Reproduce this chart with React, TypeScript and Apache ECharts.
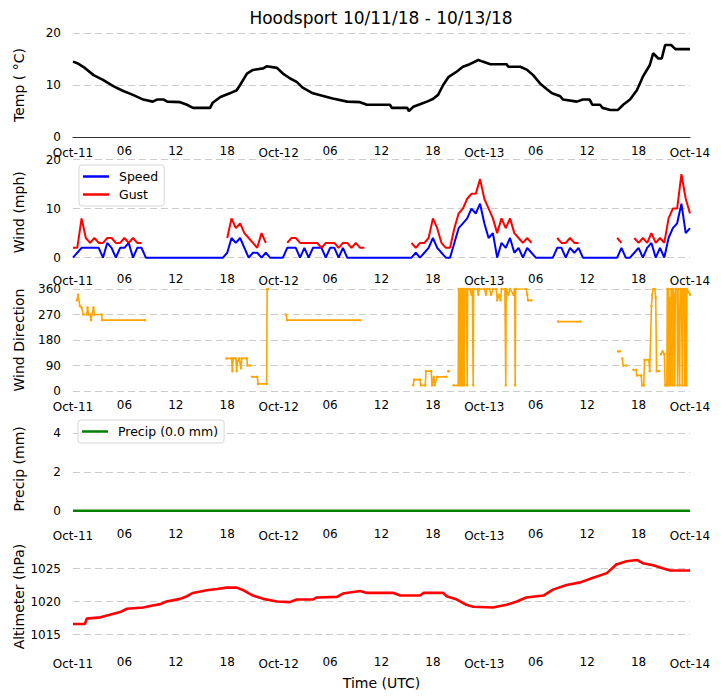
import { useEffect, useRef } from 'react'
import * as echarts from 'echarts'

const FONT = "'DejaVu Sans', sans-serif"

const TITLE = 'Hoodsport 10/11/18 - 10/13/18'

const X_TICK_LABELS = ['Oct-11', '06', '12', '18', 'Oct-12', '06', '12', '18', 'Oct-13', '06', '12', '18', 'Oct-14']

// [hours since Oct-11 00 UTC, °C]
const TEMP: [number, number][] = [
  [0, 14.5], [0.5, 14.2], [1.2, 13.5], [2.4, 11.9], [3.5, 11.0], [4.7, 9.8], [5.8, 8.9], [7, 8.1],
  [8.2, 7.2], [9.3, 6.8], [9.8, 7.2], [10.6, 7.2], [11, 6.8], [12.5, 6.7], [13.3, 6.2], [14, 5.6],
  [16, 5.6], [16.3, 6.6], [17.2, 7.7], [18.3, 8.4], [19.1, 9.0], [19.5, 10.0], [20.3, 12.2], [21, 12.9],
  [22.2, 13.2], [22.6, 13.6], [23.8, 13.3], [24.5, 12.2], [25.3, 11.3], [26.1, 10.6], [26.8, 9.5],
  [28, 8.4], [29.2, 7.9], [30.3, 7.4], [32, 6.8], [33.5, 6.7], [34.3, 6.2], [37, 6.2], [37.2, 5.6],
  [39, 5.6], [39.2, 5.0], [39.7, 5.8], [40.5, 6.3], [41.3, 6.8], [42, 7.3], [42.6, 8.1], [43.2, 10.0],
  [43.8, 11.5], [44.8, 12.6], [45.5, 13.5], [46.3, 14.0], [47.3, 14.8], [47.8, 14.5], [48.7, 14.0],
  [50.6, 14.0], [50.8, 13.5], [52.2, 13.5], [53, 12.9], [53.7, 11.9], [54.5, 10.3], [55.3, 9.2],
  [55.9, 8.4], [56.8, 7.9], [57.2, 7.2], [58.8, 6.8], [59.5, 7.2], [60.3, 7.2], [60.6, 6.2], [61.5, 6.2],
  [61.8, 5.6], [62.7, 5.2], [63.6, 5.2], [64.2, 6.2], [65, 7.2], [65.8, 9.0], [66.5, 11.6], [67.3, 13.8],
  [67.7, 16.1], [68.3, 15.1], [68.7, 15.1], [69.1, 17.7], [69.8, 17.7], [70.3, 16.9], [72, 16.9],
]

// half-hourly wind, mph (null = no gust report)
const WIND_SPEED: number[] = [
  0, 1, 2, 2, 2, 2, 2, 0, 3, 2, 0, 2, 2, 3, 0, 2, 2,
  0, 0, 0, 0, 0, 0, 0, 0, 0, 0, 0, 0, 0, 0, 0, 0, 0, 0, 0,
  1, 4, 3, 4, 2, 0, 1, 1, 0, 1,
  0, 0, 0, 0,
  2, 2, 2, 0, 2, 0, 2, 2, 2, 0, 2, 2, 0, 2, 0, 0, 0, 0, 0,
  0, 0, 0, 0, 0, 0, 0, 0, 0, 0,
  0, 1, 0, 1, 2, 4, 2, 1, 0, 0,
  3, 6, 7, 8, 10, 9, 11, 7, 4, 5, 0, 3, 2, 4, 1, 2, 0, 2, 1,
  0, 0, 0, 0, 0,
  2, 2, 0, 2, 1, 2,
  0, 0, 0, 0, 0, 0, 0, 0,
  0, 2,
  0, 0,
  1, 2, 0, 2, 3, 0, 2, 0, 4, 6, 7, 11, 5, 6,
]

const WIND_GUST: (number | null)[] = [
  2, 2, 8, 4, 3, 4, 3, 3, 4, 4, 3, 3, 4, 3, 4, 3, 3,
  null, null, null, null, null, null, null, null, null, null, null, null, null, null, null, null, null, null, null,
  4, 8, 6, 7, 5, 4, 3, 2, 5, 3,
  null, null, null, null,
  3, 4, 4, 3, 3, 3, 3, 3, 2, 3, 3, 3, 2, 3, 3, 2, 3, 2, 2,
  null, null, null, null, null, null, null, null, null, null,
  3, 2, 3, 3, 4, 8, 6, 3, 2, 2,
  6, 9, 10, 12, 13, 13, 16, 12, 10, 8, 5, 8, 6, 8, 5, 4, 3, 4, 3,
  null, null, null, null, null,
  4, 3, 3, 4, 3, 3,
  null, null, null, null, null, null, null, null,
  4, 3,
  null, null,
  4, 3, 4, 3, 5, 3, 4, 3, 8, 10, 10, 17, 12, 9,
]

// wind direction, degrees, in unbroken runs
const WIND_DIR: [number, number][][] = [
  [[0.45, 320], [0.6, 340], [0.8, 300], [1.0, 295], [1.2, 270], [1.6, 270], [1.7, 295], [1.8, 270], [2.0, 270],
    [2.1, 250], [2.2, 270], [2.4, 295], [2.5, 270], [3.35, 270], [3.4, 250], [8.4, 250]],
  [[17.9, 115], [18.5, 115], [18.6, 70], [18.7, 115], [19.0, 115], [19.1, 70], [19.2, 105], [19.4, 115],
    [19.6, 80], [19.7, 115], [20.3, 115], [20.35, 90], [20.7, 90]],
  [[20.9, 50], [21.5, 50], [21.6, 25], [22.6, 25], [22.65, 360], [22.8, 360]],
  [[24.85, 270], [25.0, 250], [33.5, 250]],
  [[39.7, 20], [39.8, 40], [40.5, 40], [40.6, 20], [41.1, 20], [41.2, 70], [41.8, 70], [41.9, 20], [42.1, 50],
    [42.2, 20], [42.5, 50], [43.6, 50]],
  [[43.8, 70], [43.85, 70]],
  [[44.4, 20], [44.95, 20], [45.0, 360], [45.1, 20], [45.2, 360], [45.3, 20], [45.35, 360], [45.45, 20],
    [45.5, 360], [45.6, 360], [45.65, 20], [45.7, 360], [45.8, 340], [45.9, 360], [46.0, 20], [46.05, 360],
    [46.3, 360], [46.5, 340], [46.6, 360], [46.7, 20], [46.75, 360], [47.2, 360], [47.3, 340], [47.4, 360],
    [48.0, 360], [48.2, 340], [48.3, 360], [48.6, 360], [48.8, 340], [49.0, 360], [49.4, 360], [49.5, 320],
    [49.7, 340], [49.9, 320], [50.0, 360], [50.4, 360], [50.5, 20], [50.55, 360], [50.8, 340], [51.0, 360],
    [51.4, 340], [51.55, 360], [51.6, 20], [51.65, 360], [52.9, 360], [53.0, 340], [53.1, 320], [53.5, 320]],
  [[56.6, 245], [59.2, 245]],
  [[63.6, 140], [63.8, 140]],
  [[64.1, 115], [64.2, 90], [64.6, 90]],
  [[65.4, 75], [65.7, 75], [65.8, 55], [66.3, 55], [66.4, 20], [66.6, 20], [66.7, 110], [67.2, 110],
    [67.3, 70], [67.5, 300], [67.6, 340], [67.7, 360], [67.9, 360], [68.0, 330], [68.1, 70], [68.4, 70]],
  [[68.6, 130], [68.8, 140], [69.0, 130], [69.1, 20], [69.3, 20], [69.35, 360], [69.45, 20], [69.5, 360],
    [69.6, 20], [69.65, 330], [69.75, 20], [69.8, 360], [69.9, 360], [69.95, 20], [70.0, 360], [70.1, 340],
    [70.2, 20], [70.3, 360], [70.5, 360], [70.55, 20], [70.6, 360], [70.8, 20], [70.85, 360], [71.0, 360],
    [71.1, 20], [71.15, 360], [71.3, 360], [71.4, 20], [71.45, 360], [71.6, 20], [71.65, 360], [72, 340]],
]

const PRECIP_HOURS = [0, 6, 12, 18, 24, 30, 36, 42, 48, 54, 60, 66, 72]
const PRECIP_MM = [0, 0, 0, 0, 0, 0, 0, 0, 0, 0, 0, 0, 0]

// [hours, hPa]
const ALTIMETER: [number, number][] = [
  [0, 1016.6], [1.4, 1016.6], [1.6, 1017.4], [3.2, 1017.6], [4.3, 1018.0], [5.5, 1018.4], [6.3, 1018.9],
  [8.2, 1019.1], [9.3, 1019.4], [10.2, 1019.6], [10.9, 1020.0], [12.5, 1020.4], [13.3, 1020.8], [14, 1021.3],
  [15.6, 1021.7], [16.8, 1021.9], [17.9, 1022.1], [19.1, 1022.1], [19.9, 1021.7], [21, 1020.9], [22.2, 1020.4],
  [23.8, 1020.0], [25.3, 1019.9], [26.1, 1020.3], [28, 1020.3], [28.4, 1020.6], [30.8, 1020.7], [31.5, 1021.2],
  [33.5, 1021.6], [34.3, 1021.3], [37.4, 1021.3], [38.2, 1020.9], [40.5, 1020.9], [40.9, 1021.3], [43.2, 1021.3],
  [43.6, 1020.8], [44.8, 1020.3], [45.9, 1019.5], [46.7, 1019.2], [49, 1019.1], [50.6, 1019.5], [51.8, 1020.0],
  [52.9, 1020.6], [54.9, 1020.9], [56, 1021.8], [57.6, 1022.5], [59.2, 1022.9], [60.7, 1023.6], [62.3, 1024.3],
  [63.4, 1025.6], [64.6, 1026.1], [65.8, 1026.3], [66.5, 1025.8], [67.7, 1025.5], [68.9, 1025.0], [69.7, 1024.7],
  [72, 1024.7],
]

const PANELS = [
  { top: 33, height: 104, name: 'Temp ( °C)', min: 0, max: 20, interval: 10 },
  { top: 159.5, height: 105.5, name: 'Wind (mph)', min: -1.5, max: 20, split: 2 },
  { top: 289, height: 102, name: 'Wind Direction', min: 0, max: 360, interval: 90 },
  { top: 417.4, height: 103, name: 'Precip (mm)', min: -0.5, max: 4.8, split: 3 },
  { top: 545.4, height: 102.3, name: 'Altimeter (hPa)', min: 1013, max: 1028.5, split: 3 },
]

const GRID_LINE = { color: '#cccccc', width: 1, type: [7, 4] as number[] }

export default function App() {
  const chartRef = useRef<HTMLDivElement>(null)

  useEffect(() => {
    if (!chartRef.current) return
    document.body.style.margin = '0'
    const chart = echarts.init(chartRef.current, undefined, { renderer: 'svg' })

    const halfHour = (i: number) => i * 0.5
    const speedData = WIND_SPEED.map((v, i) => [halfHour(i), v])
    const gustData = WIND_GUST.map((v, i) => [halfHour(i), v == null ? '-' : v])
    const dirData: any[] = []
    WIND_DIR.forEach((run, k) => {
      if (k > 0) dirData.push([run[0][0] - 0.01, '-'])
      run.forEach((p) => dirData.push(p))
    })
    const precipData = PRECIP_HOURS.map((h, i) => [h, PRECIP_MM[i]])

    const xAxes = PANELS.map((_, i) => ({
      type: 'value' as const,
      gridIndex: i,
      min: 0,
      max: 72,
      interval: 6,
      axisLine: { show: i === 0, lineStyle: { color: '#333', width: 1.2 } },
      axisTick: { show: false },
      splitLine: { show: false },
      axisLabel: {
        margin: 8,
        color: '#000',
        fontSize: 12,
        fontFamily: FONT,
        formatter: (v: number) => {
          const label = X_TICK_LABELS[Math.round(v / 6)] ?? ''
          return label.startsWith('Oct') ? `{day|${label}}` : label
        },
        rich: {
          day: { padding: [2, 0, 0, 0], color: '#000', fontSize: 12, fontFamily: FONT },
        },
      },
      ...(i === PANELS.length - 1
        ? {
            name: 'Time (UTC)',
            nameLocation: 'middle' as const,
            nameGap: 28,
            nameMoveOverlap: false,
            nameTextStyle: { color: '#000', fontSize: 14, fontFamily: FONT },
          }
        : {}),
    }))

    const yAxes = PANELS.map((p, i) => ({
      type: 'value' as const,
      gridIndex: i,
      min: p.min,
      max: p.max,
      ...(p.interval ? { interval: p.interval } : { splitNumber: p.split }),
      name: p.name,
      nameLocation: 'middle' as const,
      nameGap: 47,
      nameMoveOverlap: false,
      nameTextStyle: { color: '#000', fontSize: 14, fontFamily: FONT },
      axisLine: { show: false },
      axisTick: { show: false },
      axisLabel: {
        margin: 12,
        color: '#000',
        fontSize: 12,
        fontFamily: FONT,
        showMinLabel: p.interval ? true : false,
        showMaxLabel: i === 1 || !!p.interval,
        formatter: (v: number) => String(v),
      },
      splitLine: {
        show: true,
        lineStyle: GRID_LINE,
        showMinLine: !!p.interval && i !== 0,
        showMaxLine: i === 1 || !!p.interval,
      },
    }))

    const legendBase = {
      orient: 'vertical' as const,
      icon: 'rect',
      itemWidth: 26,
      itemHeight: 2.5,
      itemGap: 5,
      padding: [5, 6, 5, 4],
      borderColor: '#d6d6d6',
      borderWidth: 1,
      borderRadius: 3,
      backgroundColor: 'rgba(255,255,255,0.8)',
      textStyle: { color: '#000', fontSize: 12.5, fontFamily: FONT, padding: [0, 0, 0, 5] },
      selectedMode: false as const,
    }

    const option: echarts.EChartsOption = {
      animation: false,
      backgroundColor: '#fff',
      title: {
        text: TITLE,
        left: 381,
        top: 9,
        padding: 0,
        textAlign: 'center',
        textStyle: { color: '#000', fontSize: 17, fontWeight: 'normal', fontFamily: FONT },
      },
      legend: [
        { ...legendBase, data: ['Speed', 'Gust'], left: 79, top: 165 },
        { ...legendBase, data: ['Precip (0.0 mm)'], left: 78, top: 420 },
      ],
      grid: PANELS.map((p) => ({
        left: 73,
        right: 31,
        top: p.top,
        height: p.height,
        containLabel: false,
        outerBoundsMode: 'none',
      })) as any,
      xAxis: xAxes as any,
      yAxis: yAxes as any,
      series: [
        {
          type: 'line',
          name: 'Temp',
          xAxisIndex: 0,
          yAxisIndex: 0,
          data: TEMP,
          symbol: 'none',
          color: '#000',
          lineStyle: { color: '#000', width: 2.6 },
        },
        {
          type: 'line',
          name: 'Speed',
          xAxisIndex: 1,
          yAxisIndex: 1,
          data: speedData,
          symbol: 'none',
          color: '#0000ff',
          lineStyle: { color: '#0000ff', width: 2 },
        },
        {
          type: 'line',
          name: 'Gust',
          xAxisIndex: 1,
          yAxisIndex: 1,
          data: gustData,
          connectNulls: false,
          symbol: 'none',
          color: '#ff0000',
          lineStyle: { color: '#ff0000', width: 2 },
        },
        {
          type: 'line',
          name: 'Direction',
          xAxisIndex: 2,
          yAxisIndex: 2,
          data: dirData,
          connectNulls: false,
          symbol: 'circle',
          symbolSize: 2.5,
          color: '#ffa500',
          itemStyle: { color: '#ffa500' },
          lineStyle: { color: '#ffa500', width: 1.6 },
        },
        {
          type: 'line',
          name: 'Precip (0.0 mm)',
          xAxisIndex: 3,
          yAxisIndex: 3,
          data: precipData,
          symbol: 'none',
          color: '#008000',
          lineStyle: { color: '#008000', width: 2.6 },
        },
        {
          type: 'line',
          name: 'Altimeter',
          xAxisIndex: 4,
          yAxisIndex: 4,
          data: ALTIMETER,
          symbol: 'none',
          color: '#ff0000',
          lineStyle: { color: '#ff0000', width: 2.6 },
        },
      ],
    }

    chart.setOption(option)

    return () => {
      chart.dispose()
    }
  }, [])

  return <div ref={chartRef} style={{ width: '721px', height: '700px' }} />
}
